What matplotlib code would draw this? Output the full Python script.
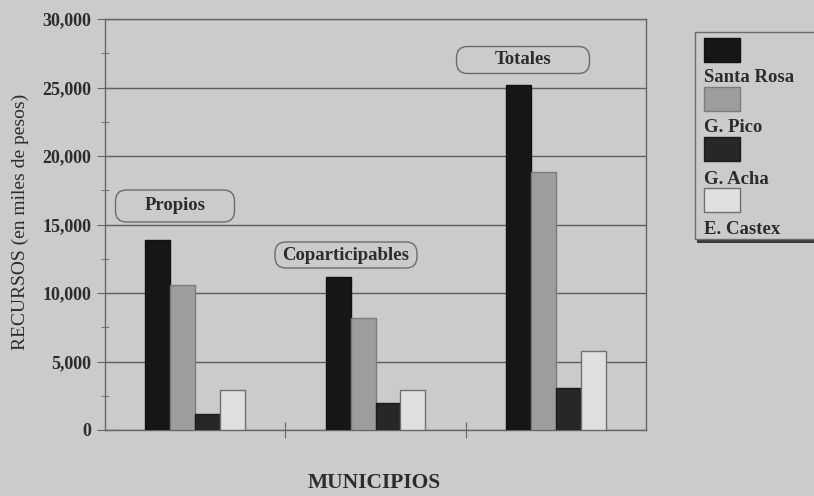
import numpy as np
import matplotlib
matplotlib.use("Agg")
import matplotlib.pyplot as plt
from matplotlib.patches import Rectangle, FancyBboxPatch
from matplotlib.transforms import IdentityTransform
from matplotlib.ticker import MultipleLocator, FuncFormatter

# datos (miles de pesos)
groups = ["Propios", "Coparticipables", "Totales"]
municipios = ["Santa Rosa", "G. Pico", "G. Acha", "E. Castex"]
santa_rosa = [13900, 11200, 25200]
g_pico = [10600, 8200, 18800]
g_acha = [1200, 1950, 3100]
e_castex = [2900, 2900, 5750]
series = [santa_rosa, g_pico, g_acha, e_castex]

bg = "#c9cccb"
fills = ["#161616", "#9c9e9e", "#262727", "#dfe1e0"]
edges = ["#111111", "#7a7c7c", "#1a1a1a", "#6f7171"]
ink = "#2b2d2d"
serif = ["Liberation Serif", "DejaVu Serif"]

W, H = 814, 496
fig = plt.figure(figsize=(W / 100, H / 100), dpi=100, facecolor=bg)
ax = fig.add_axes([105 / W, 1 - 430 / H, 541 / W, 411 / H], facecolor=bg)

x = np.arange(len(groups))
bw = 0.138
for i, vals in enumerate(series):
    ax.bar(x + (i - 1.5) * bw, vals, bw, color=fills[i], edgecolor=edges[i],
           linewidth=1.0, zorder=3)

ax.set_xlim(-0.5, 2.5)
ax.set_ylim(0, 30000)
ax.yaxis.set_major_locator(MultipleLocator(5000))
ax.yaxis.set_minor_locator(MultipleLocator(2500))
ax.yaxis.set_major_formatter(FuncFormatter(lambda v, p: f"{int(v):,}"))
ax.set_xticks([0.5, 1.5])
ax.set_xticklabels([])
ax.grid(axis="y", which="major", color="#5b5d5d", linewidth=1.0, zorder=1)
for s in ax.spines.values():
    s.set_color("#666868")
    s.set_linewidth(1.0)
ax.tick_params(axis="y", which="major", direction="inout", length=12,
               color="#666868", pad=4)
ax.tick_params(axis="y", which="minor", direction="inout", length=6,
               color="#666868")
ax.tick_params(axis="x", direction="inout", length=12, color="#666868")
for lab in ax.get_yticklabels():
    lab.set_fontfamily(serif)
    lab.set_fontweight("bold")
    lab.set_fontsize(13)
    lab.set_color(ink)

fig.text(20 / W, 1 - 222 / H, "RECURSOS (en miles de pesos)", fontfamily=serif,
         fontsize=14, color=ink, rotation=90, ha="center", va="center")
fig.text(374 / W, 1 - 483 / H, "MUNICIPIOS", fontfamily=serif, fontsize=15.5,
         fontweight="bold", color=ink, ha="center", va="center")

# etiquetas de grupo en cajas redondeadas (px: centro x, centro y, ancho, alto)
label_box = [(175, 206, 119, 32), (346, 255, 142, 26), (523, 60, 133, 27)]
for name, (cx, cy, bwp, bhp) in zip(groups, label_box):
    fig.add_artist(FancyBboxPatch((cx - bwp / 2, H - cy - bhp / 2), bwp, bhp,
                                  boxstyle="round,pad=0,rounding_size=11",
                                  transform=IdentityTransform(), facecolor=bg,
                                  edgecolor="#6a6c6c", linewidth=1.0, zorder=4))
    fig.text(cx / W, 1 - cy / H, name, fontfamily=serif, fontsize=13.5,
             fontweight="bold", color=ink, ha="center", va="center", zorder=5)

# leyenda con la etiqueta debajo de cada muestra
fig.add_artist(Rectangle((697 / W, 1 - 243 / H), 130 / W, 211 / H,
                         transform=fig.transFigure, facecolor="#3a3c3c",
                         edgecolor="none", zorder=1))
fig.add_artist(Rectangle((695 / W, 1 - 239 / H), 130 / W, 207 / H,
                         transform=fig.transFigure, facecolor=bg,
                         edgecolor="#6a6c6c", linewidth=1.0, zorder=2))
sw_top = [38, 87, 137, 188]
lab_y = [78, 128, 180, 230]
for i, name in enumerate(municipios):
    fig.add_artist(Rectangle((704 / W, 1 - (sw_top[i] + 24) / H), 36 / W, 24 / H,
                             transform=fig.transFigure, facecolor=fills[i],
                             edgecolor=edges[i], linewidth=1.0, zorder=3))
    fig.text(704 / W, 1 - lab_y[i] / H, name, fontfamily=serif, fontsize=13.5,
             fontweight="bold", color=ink, ha="left", va="center", zorder=3)

fig.savefig("out.png", dpi=100, facecolor=bg)
